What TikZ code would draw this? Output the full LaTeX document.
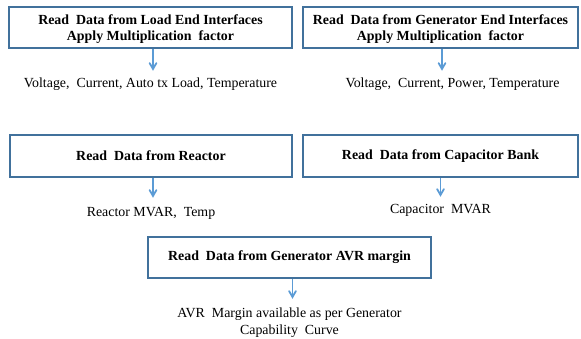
\documentclass[tikz,border=0pt]{standalone}
\usepackage{fontspec}
\setmainfont{Liberation Serif}
\usepackage{tikz}
\usetikzlibrary{positioning, arrows}
\definecolor{boxline}{HTML}{41719C}
\definecolor{arrline}{HTML}{5B9BD5}
\tikzstyle{readbox} = [rectangle, minimum height=41pt, text centered, align=center, draw=boxline, line width=1.5pt, inner sep=0pt, font=\bfseries\fontsize{13.9}{16}\selectfont]
\tikzstyle{outtext} = [text centered, align=center, inner xsep=0pt, inner ysep=7pt, font=\fontsize{13.9}{17}\selectfont]
\tikzstyle{arrow} = [draw=arrline, line width=1.8pt, ->, >=angle 60]
\def\gap{20pt}

\begin{document}
\begin{tikzpicture}[x=1pt, y=-1pt]
\useasboundingbox (0,0) rectangle (581,338);

\node (loadend) [readbox, minimum width=283pt, text depth=0pt] at (150.5,27.5) {Read~ Data from Load End Interfaces\\Apply Multiplication~ factor};
\node (genend) [readbox, minimum width=275pt, text depth=0pt] at (440.5,27.5) {Read~ Data from Generator End Interfaces\\Apply Multiplication~ factor};
\node (loadout) [outtext, below=22pt of loadend] {Voltage,~ Current, Auto tx Load, Temperature};
\node (genout) [outtext, below=22pt of genend, xshift=12pt] {Voltage,~ Current, Power, Temperature};
\draw [arrow] ([xshift=2.5pt]loadend.south) -- ([xshift=2.5pt]loadend.south |- loadout.north);
\draw [arrow] ([xshift=1.5pt]genend.south) -- ([xshift=1.5pt]genend.south |- genout.north);

\node (reactor) [readbox, minimum width=282pt, minimum height=42pt] at (151,156) {Read~ Data from Reactor};
\node (capbank) [readbox, minimum width=275pt, minimum height=42pt] at (440.5,156) {Read~ Data from Capacitor Bank};
\node (reactout) [outtext, below=\gap of reactor, inner ysep=9pt] {Reactor MVAR,~ Temp};
\node (capout) [outtext, below=19pt of capbank] {Capacitor~ MVAR};
\draw [arrow] ([xshift=2pt]reactor.south) -- ([xshift=2pt]reactor.south |- reactout.north);
\draw [arrow] (capbank.south) -- (capout.north);

\node (avr) [readbox, minimum width=283pt] at (289.5,257.5) {Read~ Data from Generator AVR margin};
\node (avrout) [outtext, below=\gap of avr, inner ysep=9pt] {AVR~ Margin available as per Generator\\Capability~ Curve};
\draw [arrow] ([xshift=3pt]avr.south) -- ([xshift=3pt]avr.south |- avrout.north);

\end{tikzpicture}
\end{document}
